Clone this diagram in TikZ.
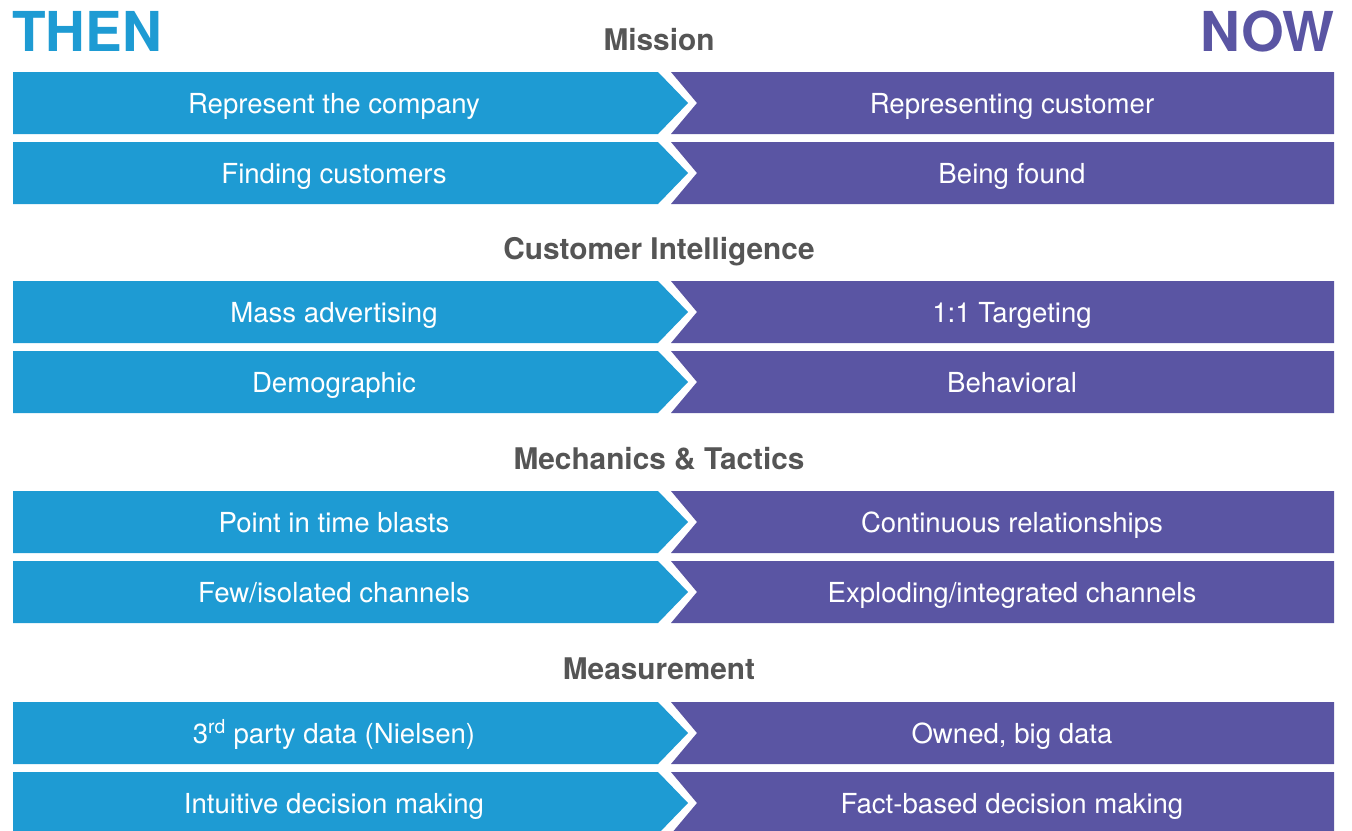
\documentclass[tikz,border=0pt]{standalone}
\usepackage{fontspec}
\setmainfont{TeX Gyre Heros}
\definecolor{thenblue}{HTML}{1E9BD3}
\definecolor{nowpurple}{HTML}{5A55A3}
\definecolor{headgray}{HTML}{555555}
\begin{document}
\begin{tikzpicture}[x=1pt,y=-1pt,
 boxtext/.style={text=white,font=\fontsize{27.6}{30}\selectfont,anchor=base,inner sep=0pt},
 header/.style={text=headgray,font=\bfseries\fontsize{29.8}{32}\selectfont,anchor=base,inner sep=0pt},
 bigword/.style={font=\bfseries\fontsize{55}{60}\selectfont,inner sep=0pt}]
\useasboundingbox (0,0) rectangle (1352,830);
\node[bigword,text=thenblue,anchor=base west] (then) at (12,51) {THEN};
\node[bigword,text=nowpurple,anchor=base east] (now) at (1335,51) {NOW};
\node[header] (h1) at (659,50) {Mission};
\node[header] (h2) at (659,259) {Customer Intelligence};
\node[header] (h3) at (659,469) {Mechanics \& Tactics};
\node[header] (h4) at (659,679) {Measurement};
\foreach \t/\l/\r/\n in {
  72/{Represent the company}/{Representing customer}/a,
  142/{Finding customers}/{Being found}/b,
  281/{Mass advertising}/{1:1 Targeting}/c,
  351/{Demographic}/{Behavioral}/d,
  491/{Point in time blasts}/{Continuous relationships}/e,
  561/{Few/isolated channels}/{Exploding/integrated channels}/f,
  702/{3\textsuperscript{rd} party data (Nielsen)}/{Owned, big data}/g,
  772/{Intuitive decision making}/{Fact-based decision making}/h}{
  \fill[thenblue] (13,\t) -- (658,\t) -- (688,\t+31) -- (658,\t+62) -- (13,\t+62) -- cycle;
  \fill[nowpurple] (671,\t) -- (1334,\t) -- (1334,\t+62) -- (671,\t+62) -- (697,\t+31) -- cycle;
  \node[boxtext] (L\n) at (334,\t+41) {\l};
  \node[boxtext] (R\n) at (1012,\t+41) {\r};
}
\end{tikzpicture}
\end{document}
